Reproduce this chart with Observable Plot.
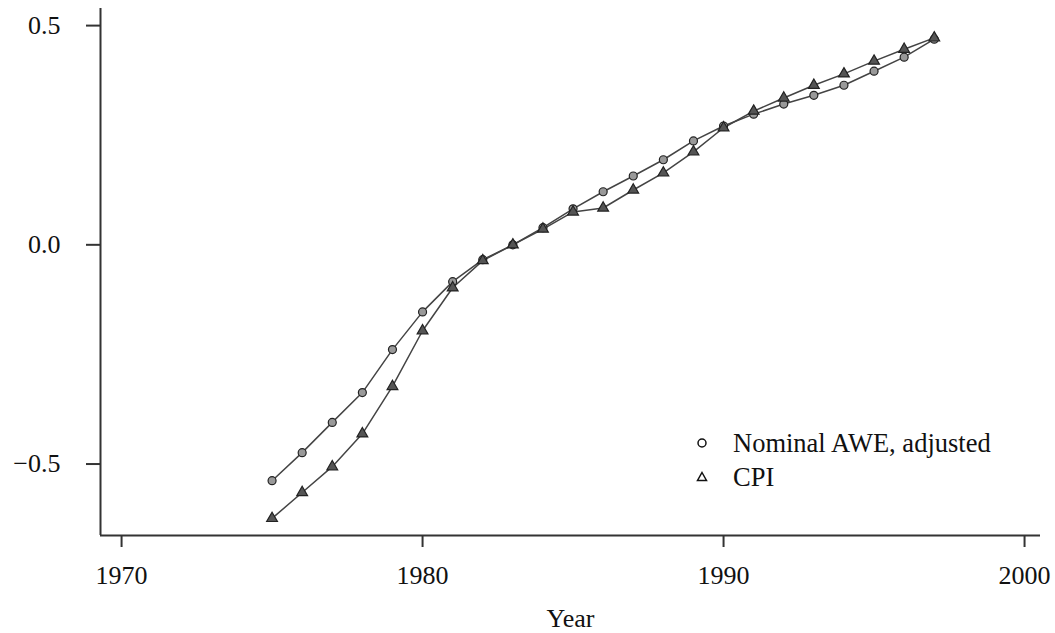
<!DOCTYPE html>
<html>
<head>
<meta charset="utf-8">
<script src="https://cdn.jsdelivr.net/npm/d3@7"></script>
<script src="https://cdn.jsdelivr.net/npm/@observablehq/plot@0.6"></script>
<style>
  body { margin: 0; background: #fff; }
  #wrap { position: relative; width: 1055px; height: 633px; }
  #legend { position: absolute; left: 694px; top: 426px; font-family: "Liberation Serif", "Times New Roman", "DejaVu Serif", serif; font-size: 26.5px; color: #111; line-height: 34px; }
  #legend div { display: flex; align-items: center; height: 34px; }
  #legend svg { margin-right: 23px; }
</style>
</head>
<body>
<div id="wrap"><div id="legend"></div></div>
<script>
const years = [1975,1976,1977,1978,1979,1980,1981,1982,1983,1984,1985,1986,1987,1988,1989,1990,1991,1992,1993,1994,1995,1996,1997];
const awe = [-0.538,-0.474,-0.405,-0.337,-0.239,-0.153,-0.084,-0.034,0.0,0.039,0.082,0.121,0.157,0.194,0.237,0.271,0.298,0.321,0.341,0.364,0.396,0.428,0.469];
const cpi = [-0.624,-0.565,-0.506,-0.431,-0.323,-0.196,-0.098,-0.036,0.0,0.036,0.075,0.084,0.125,0.164,0.212,0.267,0.305,0.335,0.364,0.390,0.419,0.446,0.472];
const seriesNames = ["Nominal AWE, adjusted", "CPI"];
const xTicks = [1970, 1980, 1990, 2000];
const yTicks = [-0.5, 0.0, 0.5];

const dAwe = years.map((y, i) => ({year: y, v: awe[i]}));
const dCpi = years.map((y, i) => ({year: y, v: cpi[i]}));

const xDom = [1969.3, 2000.53];
const yDom = [-0.663, 0.539];

const chart = Plot.plot({
  width: 1055,
  height: 633,
  marginLeft: 100,
  marginRight: 15,
  marginTop: 8,
  marginBottom: 98,
  style: {fontFamily: "'Liberation Serif', 'Times New Roman', 'DejaVu Serif', serif", fontSize: "26px", color: "#111", background: "#fff"},
  x: {domain: xDom, ticks: xTicks},
  y: {domain: yDom, ticks: yTicks},
  marks: [
    Plot.axisX({ticks: xTicks, tickFormat: "d", tickSize: 12, tickPadding: 18, fontSize: 26, label: "Year", labelAnchor: "center", labelArrow: "none", labelOffset: 91, stroke: "#333", strokeWidth: 2}),
    Plot.axisY({ticks: yTicks, tickFormat: d3.format(".1f"), tickSize: 14, tickPadding: 26, fontSize: 26, label: null, stroke: "#333", strokeWidth: 2}),
    Plot.ruleX([xDom[0]], {stroke: "#333", strokeWidth: 2}),
    Plot.ruleY([yDom[0]], {stroke: "#333", strokeWidth: 2}),
    Plot.line(dAwe, {x: "year", y: "v", stroke: "#444", strokeWidth: 1.5}),
    Plot.line(dCpi, {x: "year", y: "v", stroke: "#444", strokeWidth: 1.5}),
    Plot.dot(dAwe, {x: "year", y: "v", r: 4, fill: "#999", stroke: "#222", strokeWidth: 1.2}),
    Plot.dot(dCpi, {x: "year", y: "v", r: 4, symbol: "triangle", fill: "#555", stroke: "#222", strokeWidth: 1.2})
  ]
});
document.getElementById("wrap").prepend(chart);

const legend = document.getElementById("legend");
const symbols = [
  '<svg width="16" height="16" viewBox="-8 -8 16 16"><circle r="4" fill="#fff" stroke="#111" stroke-width="1.5"/></svg>',
  '<svg width="16" height="16" viewBox="-8 -8 16 16"><path d="M0,-4.5L4.5,3.5L-4.5,3.5Z" fill="#fff" stroke="#111" stroke-width="1.5"/></svg>'
];
seriesNames.forEach((n, i) => {
  const row = document.createElement("div");
  row.innerHTML = symbols[i] + "<span>" + n + "</span>";
  legend.appendChild(row);
});
</script>
</body>
</html>
